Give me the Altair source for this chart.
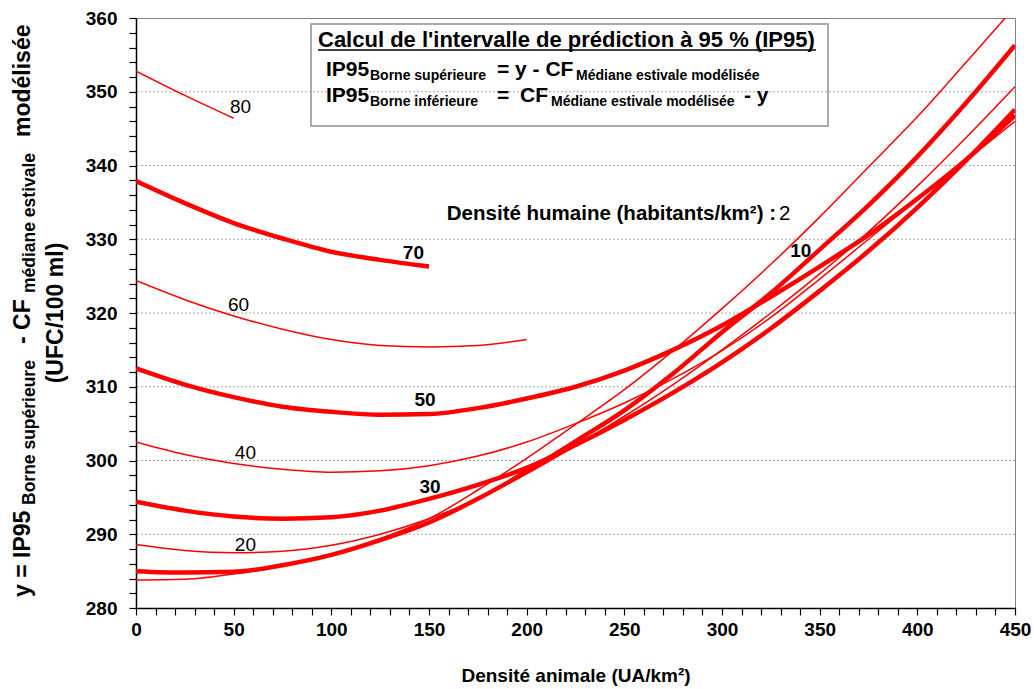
import altair as alt
import pandas as pd

# Animal density (UA/km2) sampled along each curve
animal_density = [0, 25, 50, 75, 100, 125, 150, 175, 200, 225,
                  250, 275, 300, 325, 350, 375, 400, 425, 450]

# Upper bound of the 95 % prediction interval for each human density
ip95_h2 = [283.8, 283.9, 284.6, 285.8, 287.3, 289.4, 292.1, 296.0, 300.3, 304.9,
           309.6, 314.9, 320.6, 326.6, 333.0, 339.8, 346.6, 354.0, 361.5]
ip95_h10 = [285.0, 284.8, 284.9, 285.8, 287.2, 289.2, 291.6, 294.8, 298.5, 302.6,
            306.8, 311.8, 317.4, 322.7, 328.6, 334.6, 341.2, 348.5, 356.3]
ip95_h20 = [288.6, 287.8, 287.5, 287.7, 288.5, 290.0, 292.1, 294.8, 298.2, 302.0,
            306.0, 310.3, 315.0, 320.0, 325.3, 331.0, 337.2, 343.8, 350.7]
ip95_h30 = [294.4, 293.2, 292.4, 292.1, 292.3, 293.2, 294.8, 296.7, 299.0, 302.1,
            305.5, 309.2, 313.3, 317.9, 323.0, 328.4, 334.3, 340.7, 347.6]
ip95_h40 = [302.5, 300.8, 299.6, 298.8, 298.4, 298.6, 299.3, 300.6, 302.5, 305.0,
            307.8, 311.1, 314.9, 319.4, 324.6, 330.0, 335.4, 340.7, 346.0]
ip95_h50 = [312.5, 310.3, 308.6, 307.3, 306.6, 306.2, 306.3, 307.1, 308.4, 310.0,
            312.2, 315.0, 318.3, 322.2, 326.3, 330.6, 335.5, 340.8, 346.8]
ip95_h60 = [324.4, 321.8, 319.6, 317.8, 316.4, 315.6, 315.4, 315.6, 316.4]
ip95_h70 = [337.9, 334.9, 332.2, 330.1, 328.3, 327.2, 326.3]
ip95_h80 = [352.8, 349.5, 346.4]

human_density = [2, 10, 20, 30, 40, 50, 60, 70, 80]
curve_values = [ip95_h2, ip95_h10, ip95_h20, ip95_h30, ip95_h40,
                ip95_h50, ip95_h60, ip95_h70, ip95_h80]
bold_levels = [10, 30, 50, 70]

grid_levels = [290, 300, 310, 320, 330, 340, 350]

rows = []
for h, values in zip(human_density, curve_values):
    for a, v in zip(animal_density, values):
        rows.append({"animal": a, "ip95": v, "human": h,
                     "weight": "thick" if h in bold_levels else "thin"})
curves = pd.DataFrame(rows)

FONT = "Liberation Sans"
RED = "#ff0000"

x_scale = alt.Scale(domain=[0, 450], nice=False, zero=False)
y_scale = alt.Scale(domain=[280, 360], nice=False, zero=False)

x_axis = alt.Axis(
    values=list(range(0, 451, 10)), tickCount=200, format="d",
    labelExpr="datum.value % 50 == 0 ? datum.label : ''",
    labelFont=FONT, labelFontSize=19, labelFontWeight="bold", labelColor="black",
    labelPadding=5, labelOverlap=False, labelFlush=False,
    tickColor="black", tickSize=7, tickWidth=1.2,
    domainColor="black", domainWidth=1.5, grid=False,
    title="Densité animale (UA/km²)", titleFont=FONT, titleFontSize=19,
    titleFontWeight="bold", titleColor="black", titlePadding=27,
)
y_axis = alt.Axis(
    values=list(range(280, 361, 2)), tickCount=200, format="d",
    labelExpr="datum.value % 10 == 0 ? datum.label : ''",
    labelFont=FONT, labelFontSize=19, labelFontWeight="bold", labelColor="black",
    labelPadding=12, labelOverlap=False, labelFlush=False,
    tickColor="black", tickSize=7, tickWidth=1.2,
    domainColor="black", domainWidth=1.5, grid=False, title=None,
)

base = alt.Chart(curves)

# Frame of the formula box
box = alt.Chart(pd.DataFrame({"k": [0]})).mark_rect(
    fill="white", stroke="#909090", strokeWidth=1.5
).encode(x=alt.value(175), x2=alt.value(692), y=alt.value(6), y2=alt.value(108))

grid = alt.Chart(pd.DataFrame({"g": grid_levels})).mark_rule(
    color="#a8a8a8", strokeDash=[2, 2], strokeWidth=1
).encode(y=alt.Y("g:Q", scale=y_scale))

lines = base.mark_line(interpolate="monotone", clip=True, color=RED).encode(
    x=alt.X("animal:Q", scale=x_scale, axis=x_axis),
    y=alt.Y("ip95:Q", scale=y_scale, axis=y_axis),
    detail="human:N",
    strokeWidth=alt.StrokeWidth(
        "weight:N", scale=alt.Scale(domain=["thin", "thick"], range=[1.5, 4.5]),
        legend=None),
)

# Human-density labels next to each curve
label_text = ["80", "60", "40", "20"]
label_x = [53.5, 52.5, 56.0, 56.0]
label_y = [347.9, 321.1, 301.0, 288.5]
bold_text = ["70", "50", "30", "10"]
bold_x = [142.0, 148.0, 150.5, 340.3]
bold_y = [328.1, 308.2, 296.4, 328.4]

thin_labels = alt.Chart(pd.DataFrame({"t": label_text, "x": label_x, "y": label_y})).mark_text(
    font=FONT, fontSize=19, color="black", baseline="middle", align="center"
).encode(x=alt.X("x:Q", scale=x_scale), y=alt.Y("y:Q", scale=y_scale), text="t:N")

bold_labels = alt.Chart(pd.DataFrame({"t": bold_text, "x": bold_x, "y": bold_y})).mark_text(
    font=FONT, fontSize=19, fontWeight="bold", color="black", baseline="middle", align="center"
).encode(x=alt.X("x:Q", scale=x_scale), y=alt.Y("y:Q", scale=y_scale), text="t:N")

series_title = alt.Chart(pd.DataFrame({"t": ["Densité humaine (habitants/km²) : "]})).mark_text(
    font=FONT, fontSize=20.5, fontWeight="bold", color="black", baseline="middle", align="right"
).encode(x=alt.value(640), y=alt.value(196), text="t:N")
series_first = alt.Chart(pd.DataFrame({"t": ["2"]})).mark_text(
    font=FONT, fontSize=20.5, color="black", baseline="middle", align="left"
).encode(x=alt.value(643), y=alt.value(196), text="t:N")


def run(text, x, y, size, weight="bold", angle=0, align="left"):
    return alt.Chart(pd.DataFrame({"t": [text]})).mark_text(
        font=FONT, fontSize=size, fontWeight=weight, color="black",
        baseline="alphabetic", align=align, angle=angle
    ).encode(x=alt.value(x), y=alt.value(y), text="t:N")


# Formula box contents
box_title = run("Calcul de l'intervalle de prédiction à 95 % (IP95)", 182, 29, 22)
underline = alt.Chart(pd.DataFrame({"k": [0]})).mark_rule(color="black", strokeWidth=1.5).encode(
    x=alt.value(182), x2=alt.value(680), y=alt.value(32))
formula = [
    run("IP95", 190, 58, 21), run("Borne supérieure", 234, 62, 14),
    run("= y - CF", 361, 58, 21),
    run("Médiane estivale modélisée", 440, 62, 14),
    run("IP95", 190, 84, 21), run("Borne inférieure", 234, 88, 14),
    run("=", 361, 84, 21), run("CF", 384, 84, 21),
    run("Médiane estivale modélisée", 415, 88, 14),
    run("- y", 608, 84, 21),
]

# Rotated y-axis title built from runs of different sizes
y_title = [
    run("y = IP95", -106, 579, 23, angle=270),
    run("Borne supérieure", -101, 487, 17.5, angle=270),
    run("- CF", -106, 326, 23, angle=270),
    run("médiane estivale", -101, 275, 17.5, angle=270),
    run("modélisée", -106, 119, 23, angle=270),
    run("(UFC/100 ml)", -73, 295, 23, angle=270, align="center"),
]

chart = alt.layer(
    box, grid, lines, thin_labels, bold_labels, series_title, series_first,
    box_title, underline, *formula, *y_title
).properties(
    width=879, height=590,
    autosize=alt.AutoSizeParams(type="none"),
    padding={"left": 136, "top": 18, "right": 19, "bottom": 81},
).configure_view(stroke="#808080", strokeWidth=1)

chart.save("out.html", embed_options={"renderer": "svg", "actions": False})
